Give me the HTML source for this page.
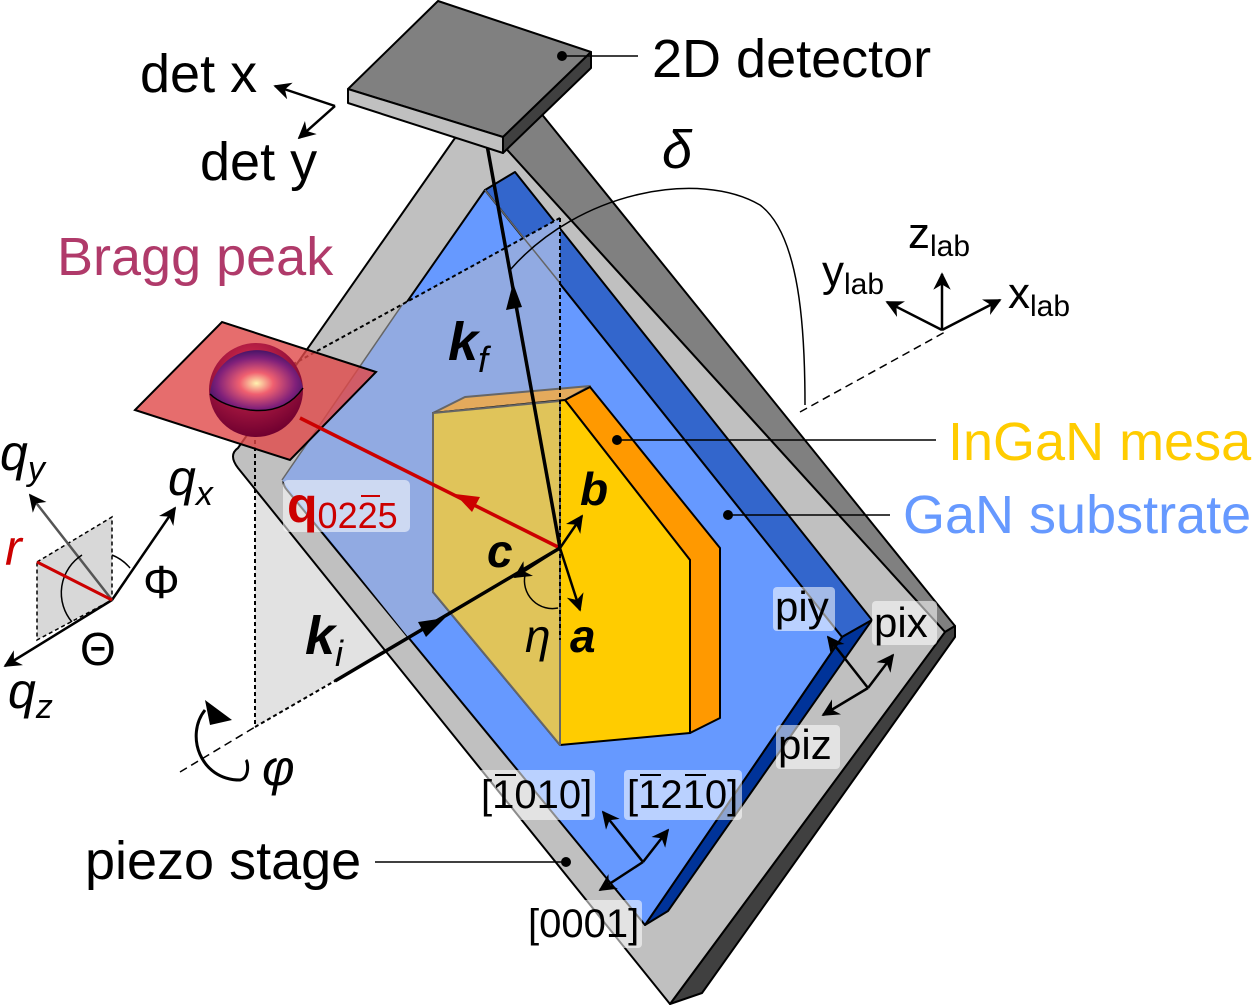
<!DOCTYPE html>
<html><head><meta charset="utf-8"><style>
html,body{margin:0;padding:0;background:#fff;}
svg{display:block;font-family:"Liberation Sans",sans-serif;}
</style></head><body>
<svg width="1252" height="1007" viewBox="0 0 1252 1007">
<defs>
<radialGradient id="sph" cx="0.5" cy="0.55" r="0.6">
<stop offset="0" stop-color="#fff3b0"/><stop offset="0.3" stop-color="#f06070"/><stop offset="0.7" stop-color="#80207a"/><stop offset="1" stop-color="#301060"/>
</radialGradient>
<radialGradient id="sph2" cx="0.45" cy="0.3" r="0.7">
<stop offset="0" stop-color="#e03050"/><stop offset="1" stop-color="#700030"/>
</radialGradient>
<marker id="ah" viewBox="0 0 10 10" refX="9" refY="5" markerWidth="7" markerHeight="7" orient="auto"><path d="M0,0 L10,5 L0,10 L3,5z" fill="#000"/></marker>
</defs>

<polygon points="560,218 255,385 255,727 560,548" fill="#e2e2e2"/>

<g stroke="#000" stroke-width="2" stroke-linejoin="round">
<polygon points="500,142 540,112 955,626 945,632" fill="#808080"/>
<polygon points="945,632 955,626 955,637 702,993 670,1004" fill="#404040"/>
<path d="M455,138 L500,142 L945,632 L670,1004 L238,468 Q228,455 238,448 Z" fill="#c0c0c0"/>
</g>
<line x1="255" y1="440" x2="255" y2="727" stroke="#000" stroke-width="2" stroke-dasharray="4,3"/>

<g stroke="#000" stroke-width="2" stroke-linejoin="round">
<polygon points="485,190 515,172 872,620 842,637" fill="#3366cc"/>
<polygon points="842,637 872,620 668,911 645,925" fill="#003399"/>
<path d="M485,190 L842,637 L645,925 L287,490 Q280,482 287,474 Z" fill="#6699ff"/>
</g>
<polygon points="560,218 402,305 282,480 408,637 560,548" fill="#91aae2"/>
<line x1="402" y1="305" x2="282" y2="480" stroke="#666" stroke-width="1.5"/>
<line x1="485" y1="190" x2="560" y2="283" stroke="#666" stroke-width="1.5"/>

<g stroke="#000" stroke-width="2" stroke-linejoin="round">
<polygon points="433,413 465,397 590,386 565,400" fill="#e4aa5c" stroke="#666"/>
<polygon points="565,400 590,387 720,548 720,718 690,733 690,560" fill="#ff9900"/>
<polygon points="433,413 565,400 690,560 690,733 560,745 433,592" fill="#ffcc00"/>
<polygon points="433,413 560,401 560,745 433,592" fill="#e0c45a" stroke="#666"/>
</g>

<line x1="560" y1="218" x2="255" y2="385" stroke="#000" stroke-width="2" stroke-dasharray="4,3"/>
<line x1="560" y1="218" x2="560" y2="640" stroke="#000" stroke-width="2" stroke-dasharray="4,3"/>
<line x1="255" y1="727" x2="340" y2="678" stroke="#000" stroke-width="2" stroke-dasharray="4,3"/>
<line x1="180" y1="772" x2="255" y2="727" stroke="#000" stroke-width="1.5" stroke-dasharray="8,5"/>
<line x1="800" y1="412" x2="945" y2="332" stroke="#000" stroke-width="1.5" stroke-dasharray="8,5"/>

<polygon points="135,410 222,322 376,372 290,460" fill="#e04848" fill-opacity="0.8" stroke="#000" stroke-width="2"/>
<g>
<circle cx="256" cy="390" r="47" fill="url(#sph2)"/>
<path d="M210,394 A47,47 0 0 1 303,388 Q285,414 250,410 Q222,406 210,394z" fill="url(#sph)"/>
<path d="M210,394 Q222,406 250,410 Q285,414 303,388" fill="none" stroke="#000" stroke-width="1.5"/>
</g>

<line x1="300" y1="418" x2="560" y2="548" stroke="#cc0000" stroke-width="3.5"/>
<polygon points="455,494 480,497 472,512" fill="#cc0000"/>

<line x1="335" y1="681" x2="560" y2="548" stroke="#000" stroke-width="3.5"/>
<polygon points="445,618 418,622 426,637" fill="#000"/>
<line x1="560" y1="548" x2="487" y2="145" stroke="#000" stroke-width="3.5"/>
<polygon points="513,283 506,310 522,307" fill="#000"/>

<g stroke="#000" stroke-width="2.5" fill="none">
<line x1="560" y1="548" x2="582" y2="516" marker-end="url(#ah)"/>
<line x1="560" y1="548" x2="580" y2="610" marker-end="url(#ah)"/>
<line x1="560" y1="548" x2="515" y2="577" marker-end="url(#ah)"/>
<path d="M525,575 A28,28 0 0 0 558,608" stroke-width="1.5"/>
</g>

<path d="M510,270 C580,190 700,170 760,205 C800,235 805,330 805,405" fill="none" stroke="#000" stroke-width="1.5"/>

<g stroke="#000" stroke-width="2" stroke-linejoin="round">
<polygon points="348,89 438,1 591,52 503,137" fill="#808080"/>
<polygon points="348,89 503,137 503,153 348,103" fill="#c0c0c0"/>
<polygon points="503,137 591,52 591,68 503,153" fill="#404040"/>
</g>
<circle cx="562" cy="56" r="5"/><line x1="562" y1="56" x2="638" y2="56" stroke="#000" stroke-width="1.5"/>
<text x="652" y="77" font-size="54">2D detector</text>

<g stroke="#000" stroke-width="2.5" fill="none">
<line x1="335" y1="106" x2="275" y2="86" marker-end="url(#ah)"/>
<line x1="335" y1="106" x2="299" y2="138" marker-end="url(#ah)"/>
</g>
<text x="140" y="92" font-size="54">det x</text>
<text x="200" y="180" font-size="54">det y</text>
<text x="57" y="275" font-size="54" fill="#b03a6a">Bragg peak</text>
<text x="662" y="168" font-size="54" font-style="italic">δ</text>

<g stroke="#000" stroke-width="2.5">
<line x1="942" y1="330" x2="942" y2="274" marker-end="url(#ah)"/>
<line x1="942" y1="330" x2="887" y2="302" marker-end="url(#ah)"/>
<line x1="942" y1="330" x2="1000" y2="300" marker-end="url(#ah)"/>
</g>
<text x="908" y="248" font-size="44">z<tspan font-size="30" dy="8">lab</tspan></text>
<text x="822" y="286" font-size="44">y<tspan font-size="30" dy="8">lab</tspan></text>
<text x="1008" y="308" font-size="44">x<tspan font-size="30" dy="8">lab</tspan></text>

<circle cx="617" cy="440" r="5"/><line x1="617" y1="440" x2="936" y2="440" stroke="#000" stroke-width="1.5"/>
<text x="948" y="460" font-size="54" fill="#ffcc00">InGaN mesa</text>
<circle cx="728" cy="515" r="5"/><line x1="728" y1="515" x2="890" y2="515" stroke="#000" stroke-width="1.5"/>
<text x="903" y="533" font-size="54" fill="#6699ff">GaN substrate</text>
<circle cx="566" cy="862" r="5"/><line x1="375" y1="862" x2="566" y2="862" stroke="#000" stroke-width="1.5"/>
<text x="85" y="879" font-size="54">piezo stage</text>

<text x="448" y="360" font-size="54" font-weight="bold" font-style="italic">k<tspan font-size="36" font-weight="normal" dy="12">f</tspan></text>
<text x="305" y="654" font-size="54" font-weight="bold" font-style="italic">k<tspan font-size="36" font-weight="normal" dy="12">i</tspan></text>
<rect x="283" y="480" width="127" height="52" rx="5" fill="#fff" fill-opacity="0.55"/>
<text x="287" y="522" font-size="50" font-weight="bold" fill="#cc0000">q<tspan font-size="36" font-weight="normal" dy="6">0225</tspan></text>
<line x1="361" y1="496" x2="380" y2="496" stroke="#cc0000" stroke-width="2"/>
<text x="580" y="505" font-size="46" font-weight="bold" font-style="italic">b</text>
<text x="487" y="567" font-size="46" font-weight="bold" font-style="italic">c</text>
<text x="570" y="652" font-size="46" font-weight="bold" font-style="italic">a</text>
<text x="525" y="652" font-size="46" font-style="italic">η</text>

<polygon points="37,562 112,517 112,600 37,640" fill="#d8d8d8" stroke="#000" stroke-width="1.5" stroke-dasharray="4,3"/>
<g stroke="#000" stroke-width="2.5" fill="none">
<line x1="112" y1="600" x2="175" y2="508" marker-end="url(#ah)"/>
<line x1="112" y1="600" x2="30" y2="495" marker-end="url(#ah)" stroke="#555"/>
<line x1="112" y1="600" x2="5" y2="666" marker-end="url(#ah)"/>
<path d="M112,555 A45,45 0 0 1 130,568" stroke-width="1.5"/>
<path d="M82,555 A45,45 0 0 0 72,622" stroke-width="1.5"/>
</g>
<line x1="37" y1="562" x2="112" y2="600" stroke="#cc0000" stroke-width="3"/>
<text x="0" y="470" font-size="50" font-style="italic">q<tspan font-size="34" dy="10">y</tspan></text>
<text x="168" y="495" font-size="50" font-style="italic">q<tspan font-size="34" dy="10">x</tspan></text>
<text x="8" y="708" font-size="50" font-style="italic">q<tspan font-size="34" dy="10">z</tspan></text>
<text x="5" y="565" font-size="50" font-style="italic" fill="#cc0000">r</text>
<text x="143" y="598" font-size="46">Φ</text>
<text x="80" y="665" font-size="46">Θ</text>

<path d="M205,710 C185,735 200,780 240,780 C250,778 248,762 246,760" fill="none" stroke="#000" stroke-width="3"/>
<polygon points="205,700 232,720 210,725" fill="#000"/>
<text x="262" y="785" font-size="50" font-style="italic">φ</text>

<g stroke="#000" stroke-width="2.5">
<line x1="868" y1="688" x2="828" y2="637" marker-end="url(#ah)"/>
<line x1="868" y1="688" x2="893" y2="655" marker-end="url(#ah)"/>
<line x1="868" y1="688" x2="823" y2="715" marker-end="url(#ah)"/>
</g>
<rect x="773" y="587" width="62" height="44" rx="4" fill="#fff" fill-opacity="0.55"/>
<text x="775" y="621" font-size="42">piy</text>
<rect x="872" y="601" width="65" height="44" rx="4" fill="#fff" fill-opacity="0.55"/>
<text x="874" y="637" font-size="42">pix</text>
<rect x="776" y="725" width="64" height="44" rx="4" fill="#fff" fill-opacity="0.55"/>
<text x="778" y="759" font-size="42">piz</text>

<g stroke="#000" stroke-width="2.5">
<line x1="643" y1="862" x2="603" y2="812" marker-end="url(#ah)"/>
<line x1="643" y1="862" x2="668" y2="830" marker-end="url(#ah)"/>
<line x1="643" y1="862" x2="600" y2="890" marker-end="url(#ah)"/>
</g>
<rect x="478" y="770" width="117" height="50" rx="4" fill="#fff" fill-opacity="0.55"/>
<text x="481" y="808" font-size="40">[1010]</text>
<line x1="495" y1="775" x2="516" y2="775" stroke="#000" stroke-width="2"/>
<rect x="624" y="770" width="118" height="50" rx="4" fill="#fff" fill-opacity="0.55"/>
<text x="627" y="808" font-size="40">[1210]</text>
<line x1="640" y1="775" x2="661" y2="775" stroke="#000" stroke-width="2"/>
<line x1="685" y1="775" x2="706" y2="775" stroke="#000" stroke-width="2"/>
<rect x="526" y="900" width="116" height="48" rx="4" fill="#fff" fill-opacity="0.55"/>
<text x="528" y="937" font-size="40">[0001]</text>
</svg>
</body></html>
